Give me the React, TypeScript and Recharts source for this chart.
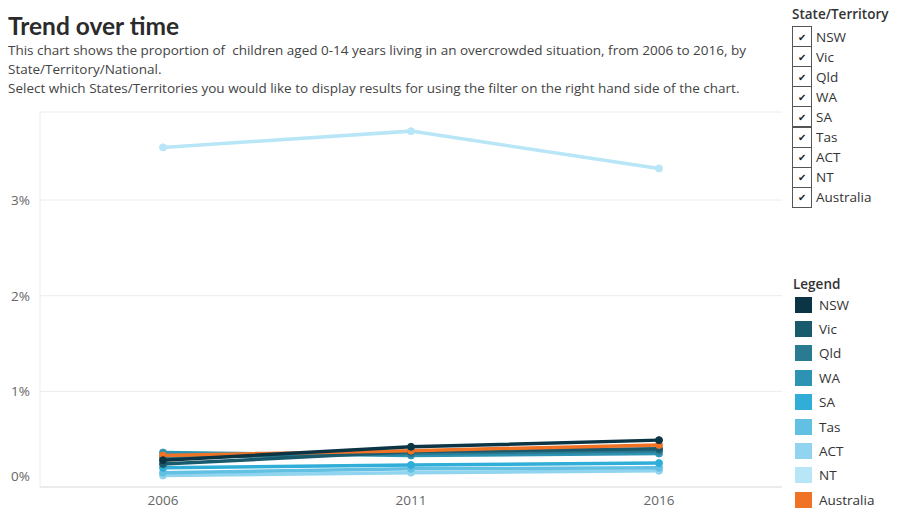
import React from "react";
import { LineChart, Line, XAxis, YAxis, CartesianGrid } from "recharts";

const years = ["2006", "2011", "2016"];
const seriesNames = ["NSW", "Vic", "Qld", "WA", "SA", "Tas", "ACT", "NT", "Australia"];
const seriesColors = ["#0b3545", "#195a6d", "#2a7a91", "#2e93b2", "#30aed8", "#62c0e2", "#90d4ef", "#b8e6f6", "#f07325"];
const nswValues = [0.28, 0.42, 0.49];
const vicValues = [0.24, 0.37, 0.4];
const qldValues = [0.31, 0.35, 0.38];
const waValues = [0.36, 0.33, 0.35];
const saValues = [0.2, 0.23, 0.25];
const tasValues = [0.15, 0.19, 0.2];
const actValues = [0.12, 0.15, 0.17];
const ntValues = [3.55, 3.72, 3.33];
const ausValues = [0.33, 0.38, 0.44];
const yTicks = [0, 1, 2, 3];

const allValues = [nswValues, vicValues, qldValues, waValues, saValues, tasValues, actValues, ntValues, ausValues];

const data = years.map((y, i) => {
  const row: any = { year: y };
  seriesNames.forEach((n, k) => {
    row[n] = allValues[k][i];
  });
  return row;
});

const drawOrder = ["NT", "ACT", "Tas", "SA", "WA", "Qld", "Vic", "Australia", "NSW"];

const FONT = "Lato, 'Open Sans', sans-serif";
const SUBFONT = "'Open Sans', Lato, sans-serif";

const YTick = (props: any) => {
  const { x, y, payload } = props;
  const dy = payload.value === 0 ? -6 : 5;
  return (
    <text x={x} y={y + dy} textAnchor="end" fill="#666" fontSize={13.5} fontFamily={SUBFONT}>
      {payload.value}%
    </text>
  );
};

const XTick = (props: any) => {
  const { x, y, payload } = props;
  return (
    <text x={x} y={y + 10} textAnchor="middle" fill="#666" fontSize={13.5} fontFamily={SUBFONT}>
      {payload.value}
    </text>
  );
};

export default function App() {
  return (
    <div style={{ position: "absolute", left: 0, top: 0, width: 899, height: 512, background: "#fff", fontFamily: FONT, overflow: "hidden" }}>
      <div style={{ position: "absolute", left: 8, top: 12, fontSize: 24.5, fontWeight: 700, color: "#2b2b2b", lineHeight: "28px" }}>
        Trend over time
      </div>
      <div style={{ position: "absolute", left: 8, top: 41, fontSize: 13.5, color: "#444", lineHeight: "19px", width: 800, fontFamily: SUBFONT, whiteSpace: "nowrap" }}>
        <div>This chart shows the proportion of&nbsp; children aged 0-14 years living in an overcrowded situation, from 2006 to 2016, by</div>
        <div>State/Territory/National.</div>
        <div>Select which States/Territories you would like to display results for using the filter on the right hand side of the chart.</div>
      </div>

      <div style={{ position: "absolute", left: 0, top: 0 }}>
        <LineChart width={899} height={512} data={data} margin={{ top: 112, right: 117, bottom: 0, left: 0 }}>
          <CartesianGrid vertical={false} stroke="#ececec" />
          <XAxis
            dataKey="year"
            padding={{ left: 123, right: 123 }}
            axisLine={{ stroke: "#e2e2e2" }}
            tickLine={false}
            tick={<XTick />}
            height={25}
          />
          <YAxis
            width={40}
            domain={[0, 3.92]}
            ticks={yTicks}
            axisLine={{ stroke: "#ececec" }}
            tickLine={false}
            tickSize={8}
            tickMargin={2}
            tick={<YTick />}
          />
          {drawOrder.map((n) => {
            const c = seriesColors[seriesNames.indexOf(n)];
            return (
              <Line
                key={n}
                dataKey={n}
                stroke={c}
                strokeWidth={3.5}
                dot={{ r: 3.5, fill: c, stroke: c, strokeWidth: 1 }}
                activeDot={false}
                isAnimationActive={false}
              />
            );
          })}
        </LineChart>
      </div>

      <div style={{ position: "absolute", left: 792, top: 5, fontSize: 13.5, fontWeight: 600, color: "#333", fontFamily: SUBFONT }}>State/Territory</div>
      {seriesNames.map((n, i) => (
        <div key={n} style={{ position: "absolute", left: 792, top: 26 + i * 20.1, height: 21, display: "flex", alignItems: "center" }}>
          <div
            style={{
              width: 18,
              height: 19,
              border: "1px solid #555",
              boxSizing: "content-box",
              display: "flex",
              alignItems: "center",
              justifyContent: "center",
              fontSize: 10,
              color: "#222",
              background: "#fff",
            }}
          >
            ✔
          </div>
          <span style={{ marginLeft: 4, fontSize: 13.5, color: "#333", fontFamily: SUBFONT }}>{n}</span>
        </div>
      ))}

      <div style={{ position: "absolute", left: 793, top: 275, fontSize: 13.5, fontWeight: 600, color: "#333", fontFamily: SUBFONT }}>Legend</div>
      {seriesNames.map((n, i) => (
        <div key={n} style={{ position: "absolute", left: 795, top: 296 + i * 24.4, height: 17, display: "flex", alignItems: "center" }}>
          <div style={{ width: 17, height: 16, background: seriesColors[i] }} />
          <span style={{ marginLeft: 7, fontSize: 13.5, color: "#333", fontFamily: SUBFONT }}>{n}</span>
        </div>
      ))}
    </div>
  );
}
